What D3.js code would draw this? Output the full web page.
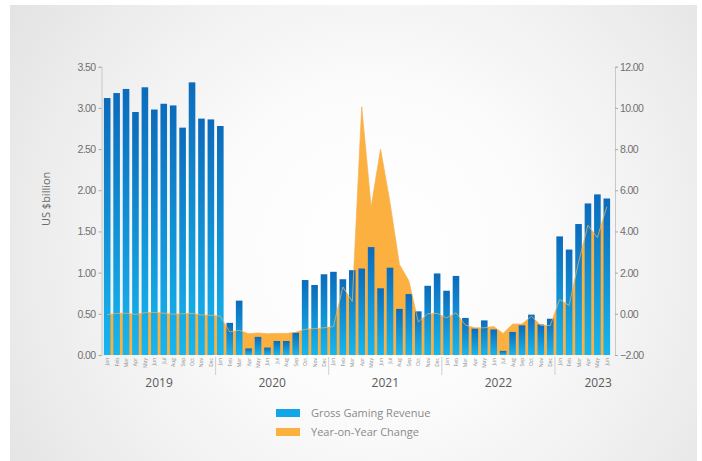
<!DOCTYPE html>
<html>
<head>
<meta charset="utf-8">
<script src="https://cdn.jsdelivr.net/npm/d3@7"></script>
<style>
  body { margin: 0; background: #fff; }
  svg { display: block; font-family: "Open Sans", "DejaVu Sans", sans-serif; }
</style>
</head>
<body>
<div id="chart"></div>
<script>
const monthNames = ["Jan","Feb","Mar","Apr","May","Jun","Jul","Aug","Sep","Oct","Nov","Dec"];
const years = ["2019", "2020", "2021", "2022", "2023"];
const monthsPerYear = [12, 12, 12, 12, 6];

// gross gaming revenue, US$ billion (left axis)
const ggr = [
    3.12, 3.18, 3.23, 2.95, 3.25, 2.98, 3.05, 3.03, 2.76, 3.31, 2.87, 2.86,
    2.78, 0.39, 0.66, 0.08, 0.22, 0.09, 0.17, 0.17, 0.27, 0.91, 0.85, 0.98,
    1.01, 0.92, 1.03, 1.05, 1.31, 0.81, 1.06, 0.56, 0.74, 0.53, 0.84, 0.99,
    0.78, 0.96, 0.45, 0.32, 0.42, 0.31, 0.05, 0.28, 0.36, 0.49, 0.37, 0.44,
    1.44, 1.28, 1.59, 1.84, 1.95, 1.90
];

// year-on-year change (right axis)
const yoy = [
    -0.05, 0.02, 0.03, -0.03, 0.05, 0.07, 0.03, -0.02, 0.00, 0.02, -0.06, -0.07,
    -0.12, -0.88, -0.80, -0.97, -0.93, -0.97, -0.95, -0.95, -0.90, -0.75, -0.72, -0.68,
    -0.62, 1.30, 0.60, 10.05, 5.20, 8.00, 5.40, 2.40, 1.60, -0.40, 0.00, 0.02,
    -0.20, 0.05, -0.55, -0.68, -0.68, -0.62, -0.95, -0.50, -0.50, -0.12, -0.56, -0.57,
    0.70, 0.40, 2.50, 4.30, 3.70, 5.20
];

const leftTicks = [0, 0.5, 1, 1.5, 2, 2.5, 3, 3.5];
const rightTicks = [-2, 0, 2, 4, 6, 8, 10, 12];

const months = [];
years.forEach((y, i) => {
    for (let m = 0; m < monthsPerYear[i]; m++) months.push(y + "-" + monthNames[m]);
});
const data = months.map((key, i) => ({ key: key, month: key.split("-")[1], ggr: ggr[i], yoy: yoy[i] }));

const width = 702, height = 461;
const plot = { left: 102, right: 612, top: 66.7, bottom: 355 };

const svg = d3.select("#chart").append("svg")
    .attr("width", width)
    .attr("height", height);

const defs = svg.append("defs");
const bg = defs.append("radialGradient")
    .attr("id", "bg")
    .attr("gradientUnits", "userSpaceOnUse")
    .attr("cx", 375).attr("cy", 250).attr("r", 430);
bg.append("stop").attr("offset", "0%").attr("stop-color", "#ffffff");
bg.append("stop").attr("offset", "35%").attr("stop-color", "#fcfcfc");
bg.append("stop").attr("offset", "70%").attr("stop-color", "#f0f0f0");
bg.append("stop").attr("offset", "100%").attr("stop-color", "#e4e4e4");

const barGrad = defs.append("linearGradient")
    .attr("id", "barGrad")
    .attr("x1", 0).attr("y1", 0).attr("x2", 0).attr("y2", 1);
barGrad.append("stop").attr("offset", "0%").attr("stop-color", "#0c6bbb");
barGrad.append("stop").attr("offset", "100%").attr("stop-color", "#16b6f0");

svg.append("rect")
    .attr("x", 10).attr("y", 5)
    .attr("width", 687).attr("height", 456)
    .attr("fill", "url(#bg)");

const x = d3.scaleBand()
    .domain(months)
    .range([plot.left, plot.right])
    .paddingInner(0.3)
    .paddingOuter(0.2);

const yL = d3.scaleLinear().domain([0, 3.5]).range([plot.bottom, plot.top]);
const yR = d3.scaleLinear().domain([-2, 12]).range([plot.bottom, plot.top]);

const cx = d => x(d.key) + x.bandwidth() / 2;

// orange area behind the bars
const area = d3.area()
    .x(cx)
    .y0(yR(-2))
    .y1(d => yR(d.yoy));

svg.append("path")
    .datum(data)
    .attr("d", area)
    .attr("fill", "#fcb040");

svg.selectAll(".bar")
    .data(data)
    .enter()
    .append("rect")
    .attr("class", "bar")
    .attr("x", d => x(d.key))
    .attr("y", d => yL(d.ggr))
    .attr("width", x.bandwidth())
    .attr("height", d => yL(0) - yL(d.ggr))
    .attr("fill", "url(#barGrad)");

// faint line over the bars
const line = d3.line().x(cx).y(d => yR(d.yoy));
svg.append("path")
    .datum(data)
    .attr("d", line)
    .attr("fill", "none")
    .attr("stroke", "#f5b257")
    .attr("stroke-width", 1)
    .attr("opacity", 0.75);

const leftAxis = svg.append("g")
    .attr("transform", `translate(${plot.left - 0.5},0)`)
    .call(d3.axisLeft(yL).tickValues(leftTicks).tickFormat(d3.format(".2f")).tickSize(3).tickPadding(3));

const rightAxis = svg.append("g")
    .attr("transform", `translate(${plot.right + 3},0)`)
    .call(d3.axisRight(yR).tickValues(rightTicks).tickFormat(d3.format(".2f")).tickSize(3).tickPadding(2));

[leftAxis, rightAxis].forEach(a => {
    a.select(".domain").attr("stroke", "#c8c8c8");
    a.selectAll(".tick line").attr("stroke", "#aaa");
    a.selectAll(".tick text")
        .attr("fill", "#707070")
        .style("font-size", "10.5px")
        .style("letter-spacing", "-0.6px");
});

// month labels
svg.selectAll(".month")
    .data(data)
    .enter()
    .append("text")
    .attr("class", "month")
    .attr("transform", d => `translate(${cx(d) + 2},${plot.bottom + 3}) rotate(-90)`)
    .attr("text-anchor", "end")
    .attr("fill", "#8a8a8a")
    .style("font-size", "5px")
    .text(d => d.month);

// year separators and labels
let start = 0;
years.forEach((y, i) => {
    const first = months[start];
    const last = months[start + monthsPerYear[i] - 1];
    const x0 = x(first);
    const x1 = x(last) + x.bandwidth();
    if (i > 0) {
        svg.append("line")
            .attr("x1", x0 - x.step() * 0.15).attr("x2", x0 - x.step() * 0.15)
            .attr("y1", plot.bottom + 2).attr("y2", plot.bottom + 20)
            .attr("stroke", "#cfcfcf");
    }
    const lx = i === years.length - 1 ? x1 - 12 : (x0 + x1) / 2;
    svg.append("text")
        .attr("x", lx)
        .attr("y", plot.bottom + 32)
        .attr("text-anchor", "middle")
        .attr("fill", "#5a5a5a")
        .style("font-size", "12px")
        .text(y);
    start += monthsPerYear[i];
});

svg.append("text")
    .attr("transform", `translate(50,${(plot.top + plot.bottom) / 2 - 12}) rotate(-90)`)
    .attr("text-anchor", "middle")
    .attr("fill", "#6a6a6a")
    .style("font-size", "11px")
    .text("US $billion");

// legend
const legend = [
    { label: "Gross Gaming Revenue", color: "#12a6e8" },
    { label: "Year-on-Year Change", color: "#fcb040" }
];
const lg = svg.append("g").attr("transform", "translate(276,409)");
legend.forEach((item, i) => {
    lg.append("rect")
        .attr("x", 0).attr("y", i * 19)
        .attr("width", 24).attr("height", 8)
        .attr("fill", item.color);
    lg.append("text")
        .attr("x", 35).attr("y", i * 19 + 8)
        .attr("fill", "#8a8a8a")
        .style("font-size", "11px")
        .text(item.label);
});
</script>
</body>
</html>
